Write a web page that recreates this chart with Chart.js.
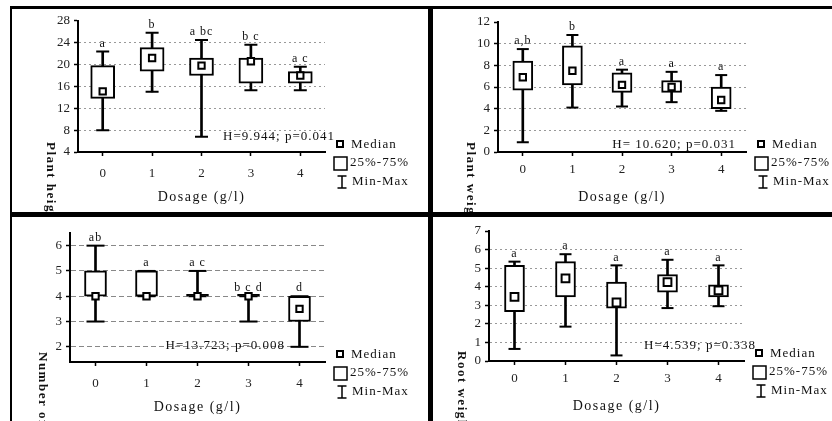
<!DOCTYPE html>
<html>
<head>
<meta charset="utf-8">
<script src="https://cdn.jsdelivr.net/npm/chart.js@4.4.1/dist/chart.umd.min.js"></script>
<style>
  html, body { margin: 0; padding: 0; background: #fff; }
  #wrap { position: relative; width: 832px; height: 421px; overflow: hidden; }
  #wrap canvas { position: absolute; }
  .rule { position: absolute; background: #000; }
</style>
</head>
<body>
<div id="wrap">
  <canvas id="c1" width="416" height="203" style="left:12px;top:9px"></canvas>
  <canvas id="c2" width="399" height="203" style="left:433px;top:9px"></canvas>
  <canvas id="c3" width="416" height="204" style="left:12px;top:217px"></canvas>
  <canvas id="c4" width="399" height="204" style="left:433px;top:217px"></canvas>
  <div class="rule" style="left:10px;top:6px;width:822px;height:3px"></div>
  <div class="rule" style="left:10px;top:6px;width:2px;height:415px"></div>
  <div class="rule" style="left:428px;top:6px;width:5px;height:415px"></div>
  <div class="rule" style="left:10px;top:212px;width:822px;height:5px"></div>
</div>
<script>
// --- Datos ---
const dosage = ['0', '1', '2', '3', '4'];

// Plant height
const heightTicks = [4, 8, 12, 16, 20, 24, 28];
const heightMin = [8.0, 15.0, 6.8, 15.3, 15.3];
const heightQ1 = [13.8, 18.8, 18.0, 16.6, 16.6];
const heightMed = [15.1, 21.2, 19.8, 20.6, 18.0];
const heightQ3 = [19.8, 23.1, 21.2, 21.2, 18.7];
const heightMax = [22.4, 25.8, 24.5, 23.6, 19.6];
const heightLetters = ['a', 'b', 'a bc', 'b c', 'a c'];

// Plant weight
const weightTicks = [0, 2, 4, 6, 8, 10, 12];
const weightMin = [0.9, 4.1, 4.2, 4.6, 3.8];
const weightQ1 = [5.7, 6.2, 5.5, 5.5, 4.0];
const weightMed = [6.9, 7.5, 6.2, 6.0, 4.8];
const weightQ3 = [8.4, 9.8, 7.3, 6.6, 6.0];
const weightMax = [9.5, 10.8, 7.6, 7.4, 7.1];
const weightLetters = ['a,b', 'b', 'a', 'a', 'a'];

// Number of leaves
const leavesTicks = [2, 3, 4, 5, 6];
const leavesMin = [3, 4, 4, 3, 2];
const leavesQ1 = [4, 4, 4, 4, 3];
const leavesMed = [4, 4, 4, 4, 3.5];
const leavesQ3 = [5, 5, 4, 4, 4];
const leavesMax = [6, 5, 5, 4, 4];
const leavesLetters = ['ab', 'a', 'a c', 'b c d', 'd'];

// Root weight
const rootTicks = [0, 1, 2, 3, 4, 5, 6, 7];
const rootMin = [0.65, 1.85, 0.3, 2.85, 2.95];
const rootQ1 = [2.65, 3.45, 2.85, 3.7, 3.45];
const rootMed = [3.45, 4.45, 3.15, 4.25, 3.8];
const rootQ3 = [5.15, 5.35, 4.25, 4.65, 4.1];
const rootMax = [5.35, 5.75, 5.15, 5.45, 5.15];
const rootLetters = ['a', 'a', 'a', 'a', 'a'];

const SERIF = "'Liberation Serif', 'Times New Roman', serif";
const INK = '#000';
const CLEAR = 'rgba(0,0,0,0)';

Chart.defaults.font.family = SERIF;
Chart.defaults.color = '#222';

/** Textos del panel: letras de grupo, estadístico H, leyenda y títulos */
const boxNotes = {
  id: 'boxNotes',
  afterDraw(chart, args, o) {
    const { ctx, chartArea: a, scales: { x, y } } = chart;
    ctx.save();
    ctx.fillStyle = '#111';
    ctx.strokeStyle = INK;
    ctx.letterSpacing = '1px';

    // letras de significación sobre cada caja
    ctx.font = '12px ' + SERIF;
    ctx.textAlign = 'center';
    ctx.textBaseline = 'bottom';
    o.letters.forEach((t, i) => {
      ctx.fillText(t, x.getPixelForValue(i), y.getPixelForValue(o.tops[i]) - 2);
    });

    // Kruskal-Wallis
    ctx.font = '13px ' + SERIF;
    ctx.textAlign = 'right';
    ctx.textBaseline = 'middle';
    ctx.fillText(o.stat, a.right + o.statDx, a.bottom + o.statDy);

    // leyenda
    const lx = a.right, ly = a.bottom;
    ctx.lineWidth = 2;
    ctx.strokeRect(lx + 12, ly - 11, 6, 6);
    ctx.lineWidth = 1.5;
    ctx.strokeRect(lx + 9, ly + 5, 13, 13);
    ctx.beginPath();
    ctx.moveTo(lx + 17, ly + 24); ctx.lineTo(lx + 17, ly + 36);
    ctx.moveTo(lx + 12.5, ly + 24); ctx.lineTo(lx + 21.5, ly + 24);
    ctx.moveTo(lx + 12.5, ly + 36); ctx.lineTo(lx + 21.5, ly + 36);
    ctx.stroke();
    ctx.textAlign = 'left';
    ctx.fillText('Median', lx + 26, ly - 7);
    ctx.fillText('25%-75%', lx + 25, ly + 11);
    ctx.fillText('Min-Max', lx + 27, ly + 30);

    // títulos de ejes
    ctx.font = '14px ' + SERIF;
    ctx.letterSpacing = '1.5px';
    ctx.textAlign = 'center';
    ctx.fillText('Dosage (g/l)', (a.left + a.right) / 2, a.bottom + 45);
    ctx.translate(a.left - 28, a.bottom - 10);
    ctx.rotate(Math.PI / 2);
    ctx.textAlign = 'left';
    ctx.font = 'bold 13px ' + SERIF;
    ctx.fillText(o.yTitle, 0, 0);
    ctx.restore();
  },
};

function boxSets(s, look) {
  return [
    { type: 'bar', data: s.min.map((v, i) => [v, s.max[i]]), backgroundColor: INK,
      barThickness: 2, grouped: false, order: 4 },
    { type: 'bar', data: s.q1.map((v, i) => [v, s.q3[i]]),
      backgroundColor: c => (s.q1[c.dataIndex] === s.q3[c.dataIndex] ? INK : '#fff'),
      borderColor: INK, borderWidth: 2, borderSkipped: false, barThickness: look.box,
      minBarLength: 2, grouped: false, order: 3 },
    { type: 'line', data: s.min, showLine: false, pointStyle: 'line', pointRadius: look.cap,
      pointBorderColor: INK, pointBorderWidth: 2, order: 2 },
    { type: 'line', data: s.max, showLine: false, pointStyle: 'line', pointRadius: look.cap,
      pointBorderColor: INK, pointBorderWidth: 2, order: 2 },
    { type: 'line', data: s.med, showLine: false, pointStyle: 'rect', pointRadius: look.med,
      pointBackgroundColor: '#fff', pointBorderColor: INK, pointBorderWidth: 2, order: 1 },
  ];
}

function makePanel(id, s, look) {
  return new Chart(document.getElementById(id), {
    type: 'bar',
    data: { labels: dosage, datasets: boxSets(s, look) },
    options: {
      responsive: false,
      animation: false,
      devicePixelRatio: 1,
      events: [],
      layout: { padding: look.pad },
      plugins: {
        legend: { display: false },
        tooltip: { enabled: false },
        boxNotes: {
          letters: s.letters, tops: s.max, stat: s.stat, yTitle: s.title,
          statDx: look.statDx, statDy: look.statDy,
        },
      },
      scales: {
        x: {
          grid: { offset: false, drawOnChartArea: false, tickLength: 4, tickColor: INK, tickWidth: 1.5 },
          border: { color: INK, width: 2 },
          ticks: { padding: look.xPad, font: { size: 13 }, color: '#222' },
          afterFit: sc => { sc.height = 30; },
        },
        y: {
          min: look.yMin,
          max: look.yMax,
          afterBuildTicks: sc => { sc.ticks = s.ticks.map(v => ({ value: v })); },
          grid: {
            color: c => (c.tick && c.tick.value > look.yMin && c.tick.value < look.yMax ? look.gridColor : CLEAR),
            lineWidth: 1, tickLength: 4, tickColor: INK, tickWidth: 1.5,
          },
          border: { color: INK, width: 2, dash: look.dash },
          ticks: { padding: 4, font: { size: 13 }, color: '#222', autoSkip: false },
          afterFit: sc => { sc.width = 32; },
        },
      },
    },
    plugins: [boxNotes],
  });
}

makePanel('c1',
  { min: heightMin, q1: heightQ1, med: heightMed, q3: heightQ3, max: heightMax,
    ticks: heightTicks, letters: heightLetters, stat: 'H=9.944; p=0.041', title: 'Plant height' },
  { yMin: 4, yMax: 28, pad: { left: 34, right: 103, top: 11, bottom: 30 }, xPad: 10,
    box: 24, cap: 6.5, med: 4.5, statDx: 10, statDy: -15, dash: [2, 3], gridColor: '#999' });

makePanel('c2',
  { min: weightMin, q1: weightQ1, med: weightMed, q3: weightQ3, max: weightMax,
    ticks: weightTicks, letters: weightLetters, stat: 'H= 10.620; p=0.031', title: 'Plant weight' },
  { yMin: 0, yMax: 12, pad: { left: 33, right: 86, top: 13, bottom: 30 }, xPad: 6,
    box: 20, cap: 6, med: 4.5, statDx: -10, statDy: -7, dash: [2, 3], gridColor: '#999' });

makePanel('c3',
  { min: leavesMin, q1: leavesQ1, med: leavesMed, q3: leavesQ3, max: leavesMax,
    ticks: leavesTicks, letters: leavesLetters, stat: 'H=13.723; p=0.008', title: 'Number of leaves' },
  { yMin: 1.4, yMax: 6.5, pad: { left: 26, right: 103, top: 16, bottom: 29 }, xPad: 10,
    box: 22, cap: 9, med: 4.5, statDx: -40, statDy: -16, dash: [5, 3], gridColor: '#888' });

makePanel('c4',
  { min: rootMin, q1: rootQ1, med: rootMed, q3: rootQ3, max: rootMax,
    ticks: rootTicks, letters: rootLetters, stat: 'H=4.539; p=0.338', title: 'Root weight' },
  { yMin: 0, yMax: 7, pad: { left: 24, right: 88, top: 14, bottom: 30 }, xPad: 6,
    box: 20, cap: 6, med: 5.5, statDx: 12, statDy: -15, dash: [2, 3], gridColor: '#999' });
</script>
</body>
</html>
